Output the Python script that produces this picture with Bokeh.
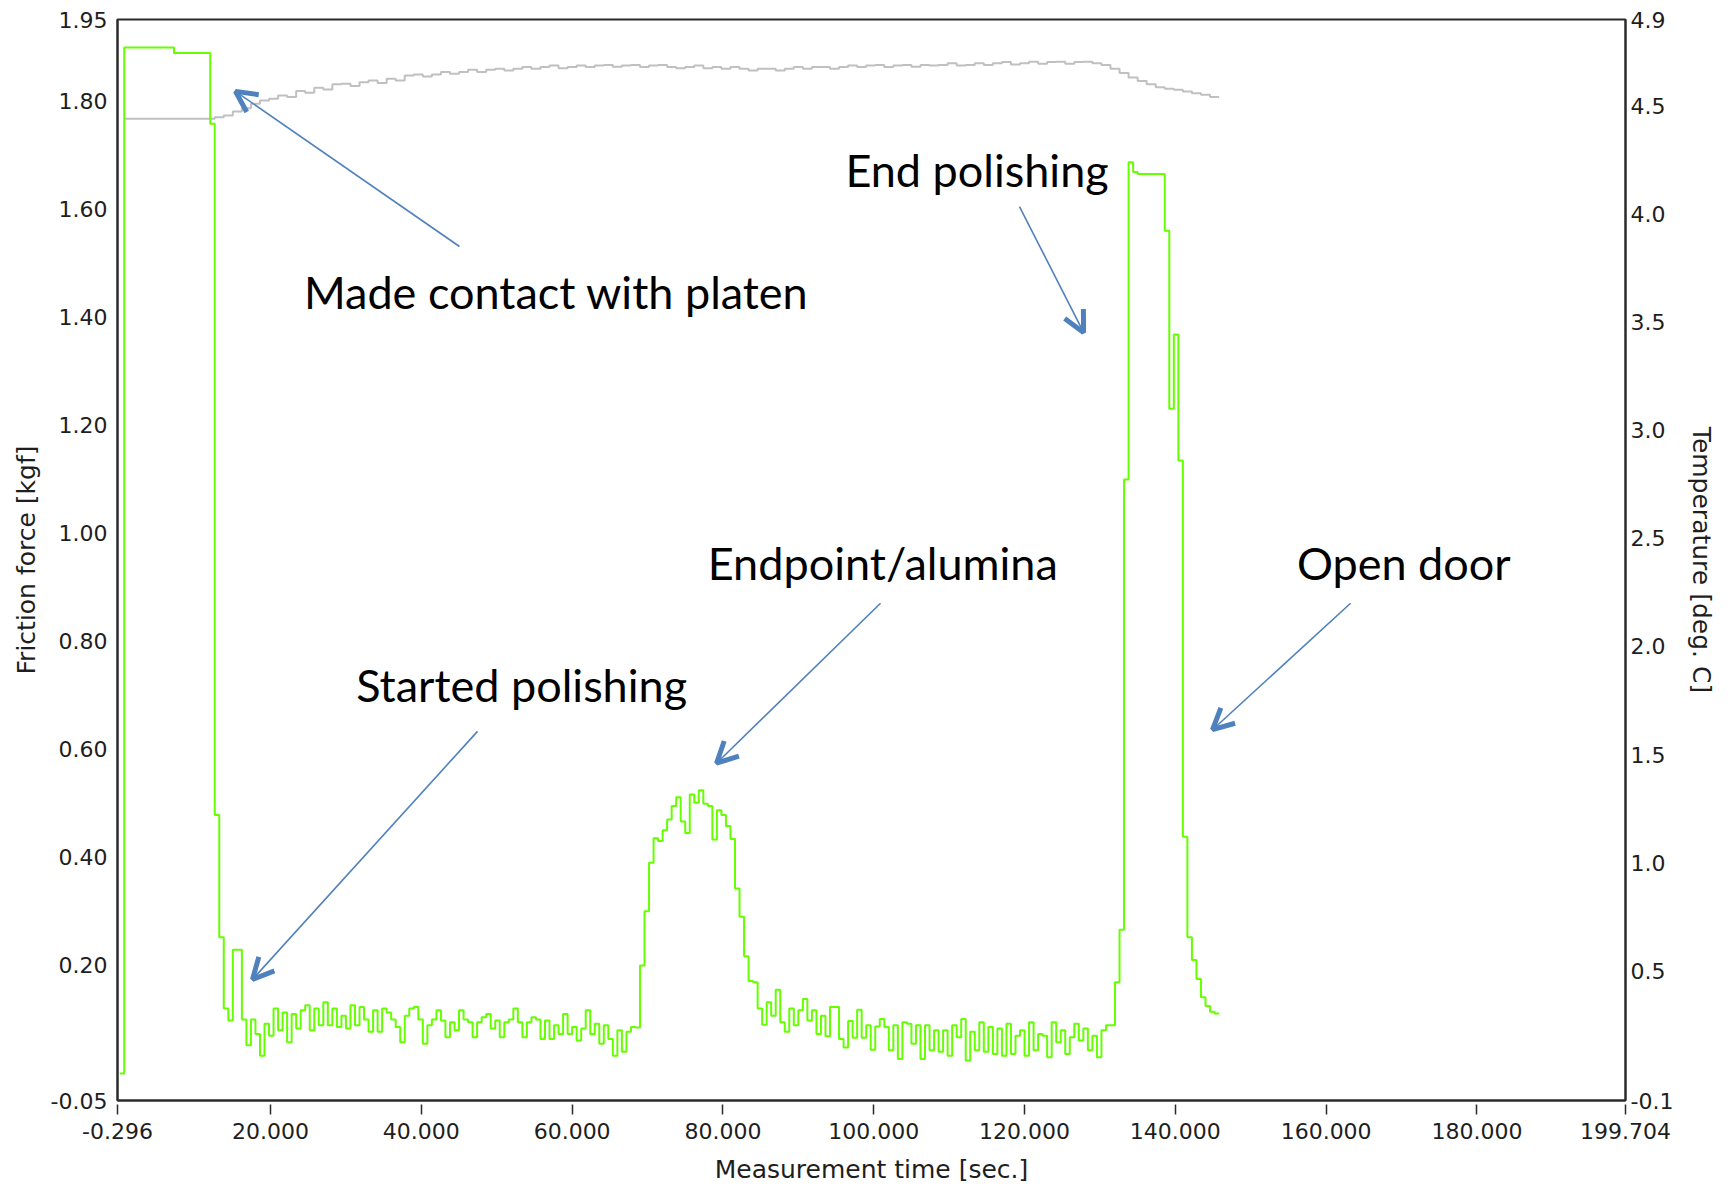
from bokeh.plotting import figure
from bokeh.models import Range1d, LinearAxis, FixedTicker, NumeralTickFormatter, Label, Arrow, OpenHead
from bokeh.embed import file_html
from bokeh.resources import INLINE

# ---------------- data ----------------
# friction force [kgf], sampled every 0.6 s starting at t = 0
force_dt = 0.6
force_setup = [0.0,
               1.898, 1.898, 1.898, 1.898, 1.898, 1.898, 1.898, 1.898, 1.898, 1.898, 1.898,
               1.888, 1.888, 1.888, 1.888, 1.888, 1.888, 1.888, 1.888,
               1.757, 0.478, 0.252, 0.12, 0.098, 0.229, 0.229]
force_polish_a = [0.10, 0.052, 0.10, 0.073, 0.033, 0.092, 0.07, 0.12, 0.08, 0.113,
                  0.058, 0.11, 0.083, 0.117, 0.126, 0.08, 0.12, 0.089, 0.132, 0.089,
                  0.12, 0.086, 0.107, 0.083, 0.126, 0.089, 0.123, 0.10, 0.077, 0.117,
                  0.077, 0.12, 0.113, 0.10, 0.086, 0.058, 0.107, 0.12, 0.123, 0.10,
                  0.055, 0.089, 0.10, 0.117, 0.098, 0.067, 0.095, 0.08, 0.117, 0.10,
                  0.095, 0.067, 0.095, 0.104, 0.11, 0.083, 0.098, 0.067, 0.095, 0.10,
                  0.12, 0.095, 0.067, 0.095, 0.104, 0.10, 0.064, 0.098, 0.064, 0.089,
                  0.073, 0.11, 0.073, 0.086, 0.061, 0.083, 0.117, 0.073, 0.092, 0.055,
                  0.089, 0.064, 0.033, 0.08, 0.04, 0.077, 0.086]
force_alumina = [0.085, 0.20, 0.30, 0.39, 0.435, 0.43, 0.45, 0.47, 0.495, 0.511,
                 0.466, 0.445, 0.516, 0.501, 0.524, 0.499, 0.495, 0.433, 0.487, 0.478,
                 0.458, 0.434, 0.342, 0.29, 0.217, 0.171, 0.169, 0.12, 0.09, 0.132]
force_polish_b = [0.107, 0.155, 0.095, 0.077, 0.12, 0.089, 0.117, 0.138, 0.098, 0.117,
                  0.073, 0.107, 0.069, 0.123, 0.123, 0.064, 0.048, 0.097, 0.066, 0.118,
                  0.066, 0.089, 0.044, 0.087, 0.101, 0.086, 0.043, 0.089, 0.027, 0.095,
                  0.092, 0.055, 0.089, 0.027, 0.089, 0.043, 0.08, 0.04, 0.08, 0.033,
                  0.089, 0.067, 0.101, 0.024, 0.077, 0.043, 0.095, 0.04, 0.086, 0.036,
                  0.083, 0.033, 0.092, 0.036, 0.07, 0.08, 0.033, 0.095, 0.043, 0.073,
                  0.07, 0.03, 0.095, 0.058, 0.08, 0.036, 0.067, 0.092, 0.061, 0.083,
                  0.043, 0.07, 0.03, 0.08, 0.089, 0.089]
force_end = [0.169, 0.266, 1.099, 1.686, 1.668, 1.664, 1.664, 1.664, 1.664, 1.664,
             1.664, 1.559, 1.23, 1.367, 1.134, 0.438, 0.252, 0.21, 0.175, 0.141,
             0.125, 0.114, 0.111]

# temperature [deg C], sampled every 1.2 s starting at t = 0.6
temp_start = 0.6
temp_dt = 1.2
temperature = [4.441, 4.441, 4.441, 4.441, 4.441, 4.441, 4.441, 4.441, 4.441, 4.441,
               4.448, 4.456, 4.475, 4.49, 4.51, 4.525, 4.533, 4.549, 4.541, 4.569,
               4.561, 4.584, 4.576, 4.60, 4.603, 4.592, 4.61, 4.618, 4.606, 4.626,
               4.618, 4.641, 4.646, 4.636, 4.646, 4.657, 4.649, 4.657, 4.667, 4.657,
               4.667, 4.672, 4.664, 4.672, 4.68, 4.672, 4.68, 4.687, 4.675, 4.68,
               4.687, 4.68, 4.687, 4.69, 4.682, 4.687, 4.69, 4.68, 4.687, 4.69,
               4.68, 4.675, 4.68, 4.687, 4.675, 4.68, 4.672, 4.68, 4.672, 4.664,
               4.672, 4.672, 4.664, 4.672, 4.68, 4.672, 4.68, 4.68, 4.672, 4.68,
               4.687, 4.68, 4.687, 4.69, 4.68, 4.687, 4.69, 4.682, 4.69, 4.687,
               4.69, 4.698, 4.687, 4.69, 4.698, 4.69, 4.698, 4.703, 4.692, 4.698,
               4.705, 4.695, 4.703, 4.705, 4.695, 4.703, 4.705, 4.698, 4.69, 4.672,
               4.652, 4.632, 4.615, 4.60, 4.587, 4.58, 4.575, 4.567, 4.559, 4.552,
               4.541]

x_ticks = [-0.296, 20, 40, 60, 80, 100, 120, 140, 160, 180, 199.704]
force_ticks = [-0.05, 0.2, 0.4, 0.6, 0.8, 1.0, 1.2, 1.4, 1.6, 1.8, 1.95]
temp_ticks = [-0.1, 0.5, 1.0, 1.5, 2.0, 2.5, 3.0, 3.5, 4.0, 4.5, 4.9]

# annotations (time, force coordinates)
note_texts = ["Made contact with platen", "End polishing", "Endpoint/alumina", "Open door", "Started polishing"]
note_x = [57.9, 113.7, 101.2, 170.3, 53.3]
note_y = [1.446, 1.671, 0.945, 0.945, 0.718]
arrow_x0 = [45.06, 119.33, 100.9, 163.24, 47.45]
arrow_y0 = [1.530, 1.604, 0.870, 0.870, 0.633]
arrow_x1 = [15.35, 127.83, 79.15, 144.93, 17.61]
arrow_y1 = [1.817, 1.371, 0.574, 0.636, 0.174]

# ---------------- build series ----------------
force_values = force_setup + force_polish_a + force_alumina + force_polish_b + force_end
force_t = [round(i * force_dt, 3) for i in range(len(force_values) + 1)]
force_y = force_values + [force_values[-1]]

temp_t = [round(temp_start + i * temp_dt, 3) for i in range(len(temperature) + 1)]
temp_y = temperature + [temperature[-1]]

# ---------------- figure ----------------
AX = "#2b2b2b"
TXT = "#1e1e1e"
p = figure(frame_width=1508, frame_height=1081,
           x_range=Range1d(-0.296, 199.704), y_range=Range1d(-0.05, 1.95),
           output_backend="svg", toolbar_location=None,
           min_border_left=117, min_border_right=88, min_border_top=19, min_border_bottom=80)
p.extra_y_ranges = {"temp": Range1d(-0.1, 4.9)}
p.xgrid.visible = False
p.ygrid.visible = False
p.background_fill_color = "white"
p.border_fill_color = "white"
p.outline_line_color = AX
p.outline_line_width = 2

xa = p.xaxis[0]
xa.ticker = FixedTicker(ticks=x_ticks)
xa.formatter = NumeralTickFormatter(format="0.000")
xa.major_tick_in = -4
xa.major_tick_out = 14
xa.minor_tick_in = 0
xa.minor_tick_out = 0
xa.major_tick_line_color = AX
xa.major_tick_line_width = 1.5
xa.axis_line_color = AX
xa.axis_line_width = 2
xa.major_label_standoff = 8
xa.major_label_text_font = "DejaVu Sans"
xa.major_label_text_font_size = "22px"
xa.major_label_text_color = TXT
xa.axis_label = "Measurement time [sec.]"
xa.axis_label_text_font = "DejaVu Sans"
xa.axis_label_text_font_size = "25px"
xa.axis_label_text_font_style = "normal"
xa.axis_label_text_color = TXT
xa.axis_label_standoff = 13

ya = p.yaxis[0]
ya.ticker = FixedTicker(ticks=force_ticks)
ya.formatter = NumeralTickFormatter(format="0.00")
ya.major_tick_in = 0
ya.major_tick_out = 0
ya.minor_tick_in = 0
ya.minor_tick_out = 0
ya.axis_line_color = AX
ya.axis_line_width = 2
ya.major_label_standoff = 10
ya.major_label_text_font = "DejaVu Sans"
ya.major_label_text_font_size = "22px"
ya.major_label_text_color = TXT
ya.axis_label = "Friction force [kgf]"
ya.axis_label_text_font = "DejaVu Sans"
ya.axis_label_text_font_size = "25px"
ya.axis_label_text_font_style = "normal"
ya.axis_label_text_color = TXT
ya.axis_label_standoff = 7

ra = LinearAxis(y_range_name="temp")
ra.ticker = FixedTicker(ticks=temp_ticks)
ra.formatter = NumeralTickFormatter(format="0.0")
ra.major_tick_in = 0
ra.major_tick_out = 0
ra.minor_tick_in = 0
ra.minor_tick_out = 0
ra.axis_line_color = AX
ra.axis_line_width = 2
ra.major_label_standoff = 5
ra.major_label_text_font = "DejaVu Sans"
ra.major_label_text_font_size = "22px"
ra.major_label_text_color = TXT
ra.axis_label = "Temperature [deg. C]"
ra.axis_label_text_font = "DejaVu Sans"
ra.axis_label_text_font_size = "25px"
ra.axis_label_text_font_style = "normal"
ra.axis_label_text_color = TXT
ra.axis_label_standoff = 11
p.add_layout(ra, "right")

# series
p.step(temp_t, temp_y, mode="after", line_color="#c0c0c0", line_width=2, y_range_name="temp")
p.step(force_t, force_y, mode="after", line_color="#66ff00", line_width=2)

# arrows and notes
ARROW = "#4f81bd"
for x0, y0, x1, y1 in zip(arrow_x0, arrow_y0, arrow_x1, arrow_y1):
    p.add_layout(Arrow(x_start=x0, y_start=y0, x_end=x1, y_end=y1,
                       line_color=ARROW, line_width=1.6,
                       end=OpenHead(size=21, line_width=5, line_color=ARROW)))
for t, x, y in zip(note_texts, note_x, note_y):
    p.add_layout(Label(x=x, y=y, text=t, text_font="Lato", text_font_size="45px",
                       text_align="center", text_baseline="alphabetic", text_color="black"))

open("out.html", "w").write(file_html(p, INLINE))
